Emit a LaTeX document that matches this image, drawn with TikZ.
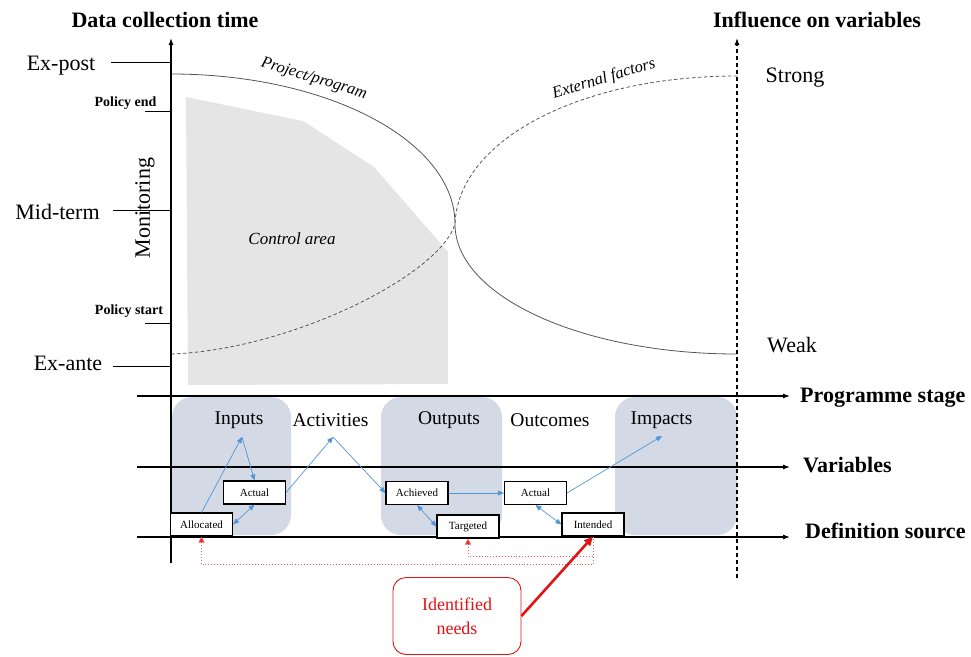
\documentclass[tikz,border=0pt]{standalone}
\usepackage{fontspec}
\setmainfont{Liberation Serif}
\usetikzlibrary{arrows.meta}
\definecolor{stagecol}{RGB}{211,218,230}
\definecolor{ctrlgray}{RGB}{229,229,229}
\definecolor{arrowblue}{RGB}{80,150,215}
\definecolor{curvegray}{RGB}{85,85,85}
\definecolor{needred}{RGB}{225,20,20}
\definecolor{dotred}{RGB}{245,90,90}
\begin{document}
\begin{tikzpicture}[x=1pt,y=-1pt,
  axisline/.style={line width=1.1pt,-{Latex[length=7pt,width=5pt]}},
  ticklin/.style={line width=0.7pt},
  biglab/.style={font=\fontsize{22}{24}\selectfont, inner sep=0pt},
  boldlab/.style={font=\bfseries\fontsize{22}{24}\selectfont, inner sep=0pt},
  smallbold/.style={font=\bfseries\fontsize{14}{16}\selectfont, inner sep=0pt},
  stagelab/.style={font=\fontsize{19.5}{22}\selectfont, inner sep=0pt},
  itallab/.style={font=\itshape\fontsize{16.5}{19}\selectfont, inner sep=0pt},
  varbox/.style={draw, fill=white, line width=1.1pt, minimum width=62pt, minimum height=23pt, inner sep=0pt, font=\fontsize{11}{13}\selectfont},
  stagebg/.style={fill=stagecol, rounded corners=20pt},
  curve/.style={draw=curvegray, line width=0.8pt},
  bluearrow/.style={draw=arrowblue, line width=0.7pt, -{Triangle[length=6pt,width=5pt]}},
  bluedouble/.style={draw=arrowblue, line width=0.7pt, {Triangle[length=6pt,width=5pt]}-{Triangle[length=6pt,width=5pt]}},
  reddot/.style={draw=dotred, dotted, line width=0.9pt, -{Triangle[length=6pt,width=6pt,fill=needred]}},
  needbox/.style={draw=needred, line width=0.9pt, rounded corners=13pt, minimum width=128pt, minimum height=77pt, align=center, text=needred, font=\fontsize{18}{24}\selectfont}
]
\useasboundingbox (0,0) rectangle (971,656);

% control area
\fill[ctrlgray] (186,97) -- (303,121) -- (374,167) -- (448,252) -- (448,384) -- (188,385) -- cycle;
\node[itallab, font=\itshape\fontsize{17}{19}\selectfont] (ctrl) at (292,239) {Control area};

% stage backgrounds
\fill[stagebg] (172,397) rectangle (291,535);
\fill[stagebg] (381,397) rectangle (502,535);
\fill[stagebg] (615,397) rectangle (737,535);

% curves
\draw[curve] (171,74) .. controls (328,74) and (455,141) .. (455,224)
             .. controls (455,296) and (581,354) .. (737,354);
\draw[curve, dashed, dash pattern=on 3.5pt off 2.5pt] (171,354) .. controls (290,350) and (440,275) .. (455,224)
             .. controls (458,140) and (580,76) .. (737,76);
\node[itallab, rotate=-17] (proj) at (314,79) {Project/program};
\node[itallab, rotate=17] (ext) at (604,79) {External factors};

% vertical axes
\coordinate (vbot) at (171,563);
\coordinate (vtop) at (171,38);
\draw[axisline] (vbot) -- (vtop);
\coordinate (dbot) at (737,578);
\coordinate (dtop) at (737,38);
\draw[line width=1.1pt, dash pattern=on 4pt off 3pt, -{Latex[length=7pt,width=5pt]}] (dbot) -- (dtop);

% horizontal axes
\coordinate (h1a) at (137,396); \coordinate (h1b) at (790,396);
\coordinate (h2a) at (137,467); \coordinate (h2b) at (790,467);
\coordinate (h3a) at (137,537); \coordinate (h3b) at (790,537);
\draw[axisline] (h1a) -- (h1b);
\draw[axisline] (h2a) -- (h2b);
\draw[axisline] (h3a) -- (h3b);

% titles
\node[boldlab] (ttl1) at (165,20) {Data collection time};
\node[boldlab] (ttl2) at (817,20) {Influence on variables};
\node[boldlab, anchor=west] (ps) at (800,398) {Programme stage};
\node[boldlab, anchor=west] (vv) at (803,465) {Variables};
\node[boldlab, anchor=west] (ds) at (805,531) {Definition source};

% left labels and ticks
\node[biglab] (expost) at (61,66) {Ex-post};
\node[smallbold] (pend) at (125.5,103) {Policy end};
\node[biglab] (mid) at (57.5,212) {Mid-term};
\node[smallbold] (pstart) at (129,311) {Policy start};
\node[biglab] (exante) at (68,363) {Ex-ante};
\draw[ticklin] (111,62) -- (171,62);
\draw[ticklin] (145,111) -- (171,111);
\draw[ticklin] (113,210) -- (171,210);
\draw[ticklin] (145,323) -- (171,323);
\draw[ticklin] (113,366) -- (171,366);
\node[biglab, rotate=90] (mon) at (145,208) {Monitoring};

% right labels
\node[biglab] (strong) at (795,78) {Strong};
\node[biglab] (weak) at (792,345) {Weak};

% stage labels
\node[stagelab] (inp) at (239,420) {Inputs};
\node[stagelab] (act) at (330.5,420) {Activities};
\node[stagelab] (outp) at (449,420) {Outputs};
\node[stagelab] (outc) at (550,420) {Outcomes};
\node[stagelab] (imp) at (661.5,420) {Impacts};

% variable boxes
\node[varbox] (alloc) at (201.5,524.5) {Allocated};
\node[varbox] (actual1) at (254.5,492.5) {Actual};
\node[varbox] (achieved) at (417,493) {Achieved};
\node[varbox] (targeted) at (468,526.5) {Targeted};
\node[varbox] (actual2) at (535.5,493) {Actual};
\node[varbox] (intended) at (593,524.5) {Intended};

% blue arrows
\coordinate (p1) at (242,437);
\coordinate (p2) at (333,437);
\coordinate (p3) at (662,436);
\draw[bluearrow] (alloc.north) -- (p1);
\draw[bluearrow] (p1) -- (actual1.north);
\draw[bluedouble] (alloc.east) -- (actual1.south);
\draw[bluearrow] (actual1.east) -- (p2);
\draw[bluearrow] (p2) -- (achieved.west);
\draw[bluedouble] (achieved.south) -- (targeted.west);
\draw[bluearrow] (achieved.east) -- (actual2.west);
\draw[bluedouble] (actual2.south) -- (intended.west);
\draw[bluearrow] (actual2.east) -- (p3);

% red dotted feedback
\draw[reddot] (intended.south) -- ++(0,28) -| (alloc.south);
\draw[reddot] (intended.south) -- ++(0,20) -| (targeted.south);

% identified needs
\node[needbox] (needs) at (457,616) {Identified\\needs};
\draw[draw=needred, line width=2.6pt, -{Triangle[length=9pt,width=8pt]}] (needs.east) -- (intended.south);
\end{tikzpicture}
\end{document}
